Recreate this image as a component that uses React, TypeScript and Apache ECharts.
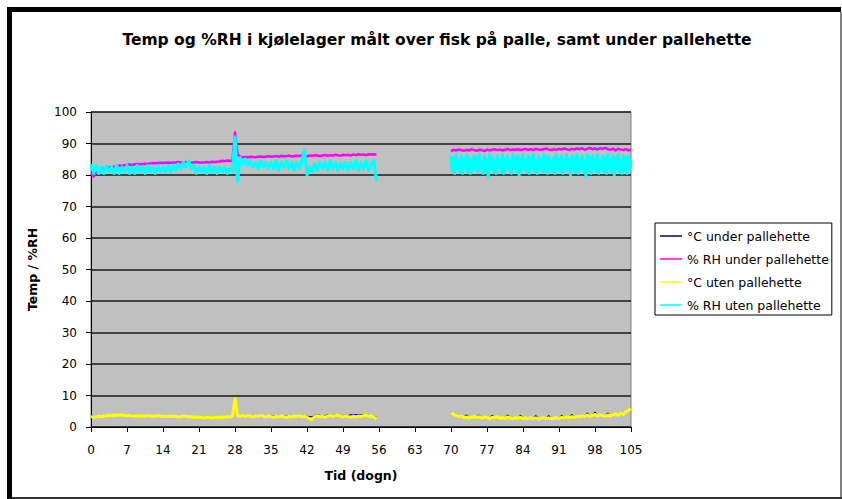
import React, { useEffect, useRef } from 'react';
import * as echarts from 'echarts';

const TITLE = 'Temp og %RH i kjølelager målt over fisk på palle, samt under pallehette';
const X_NAME = 'Tid (dogn)';
const Y_NAME = 'Temp / %RH';
const SERIES_NAMES = ['°C under pallehette', '% RH under pallehette', '°C uten pallehette', '% RH uten pallehette'];
const SERIES_COLORS = ['#000080', '#FF00FF', '#FFFF00', '#00FFFF'];
const SERIES_WIDTHS = [1.2, 2.5, 3, 3.2];

// sampling: part 1 starts at day 0, part 2 at day 70
const PART1_START = 0;
const PART2_START = 70;
const STEP = 0.5;
const STEP_FINE = 0.25;
const GAP_DAY = 62;

// °C under pallehette
const tempUnder1 = [
  3.4, 3.3, 3.3, 3.5, 3.5, 3.6, 3.7, 3.7, 3.7, 3.8,
  3.8, 3.8, 3.8, 3.9, 3.8, 3.8, 3.7, 3.7, 3.6, 3.7,
  3.6, 3.6, 3.6, 3.5, 3.6, 3.5, 3.6, 3.5, 3.5, 3.5,
  3.5, 3.5, 3.4, 3.4, 3.4, 3.4, 3.4, 3.4, 3.3, 3.3,
  3.2, 3.2, 3.2, 3.1, 3.1, 3.1, 3.1, 3.1, 3.1, 3.1,
  3.1, 3.2, 3.2, 3.3, 3.3, 3.4, 8.0, 3.7, 3.6, 3.6,
  3.6, 3.6, 3.5, 3.5, 3.6, 3.5, 3.6, 3.5, 3.5, 3.6,
  3.5, 3.5, 3.5, 3.5, 3.6, 3.5, 3.4, 3.5, 3.5, 3.6,
  3.5, 3.6, 3.5, 3.5, 3.4, 3.3, 3.2, 3.6, 3.9, 3.7,
  3.6, 3.5, 3.9, 3.8, 3.6, 3.8, 3.9, 3.7, 3.6, 3.7,
  3.6, 3.9, 3.8, 3.9, 3.9, 3.8, 3.9, 3.9, 3.7, 3.6,
  3.5, 3.0,
];
const tempUnder2 = [
  4.8, 4.1, 3.7, 3.5, 3.6, 3.2, 3.8, 3.0, 3.2, 3.5,
  3.1, 3.8, 2.9, 3.3, 3.1, 2.8, 3.7, 3.0, 3.4, 2.9,
  3.1, 2.8, 3.8, 3.0, 2.7, 3.1, 2.9, 3.7, 2.8, 3.0,
  2.7, 3.1, 2.8, 3.6, 2.6, 2.9, 3.1, 2.8, 3.6, 2.7,
  2.9, 3.1, 2.8, 3.7, 3.0, 3.3, 3.1, 3.9, 3.2, 3.5,
  3.3, 3.7, 3.4, 4.4, 3.5, 3.8, 4.7, 3.6, 4.0, 3.7,
  3.5, 4.4, 3.6, 4.0, 4.3, 3.8, 4.5, 4.1, 4.9, 5.3,
  6.1,
];

// % RH under pallehette
const rhUnder1 = [
  80.5, 79.5, 81, 81.5, 82, 82, 82.3, 82.5, 82.4, 82.7,
  82.8, 83, 82.9, 83.1, 83.2, 83.3, 83.2, 83.4, 83.5, 83.4,
  83.5, 83.6, 83.5, 83.7, 83.8, 83.7, 83.8, 83.9, 83.8, 83.9,
  84, 83.9, 84, 84, 84.1, 84, 84, 84.1, 84, 84,
  84, 84.1, 84, 84, 84, 84.1, 84, 84.2, 84.1, 84.2,
  84.3, 84.5, 84.4, 84.6, 84.5, 84.4, 93.5, 86.5, 85.8, 85.6,
  85.7, 85.6, 85.8, 85.7, 85.6, 85.8, 85.9, 85.7, 85.8, 86,
  85.8, 85.9, 86, 85.8, 86.1, 85.9, 86, 86.2, 85.9, 86,
  86.1, 86, 86.3, 86.1, 85.9, 86.2, 86.1, 86.3, 86.2, 86,
  86.2, 86.4, 86.1, 86.3, 86.2, 86.4, 86.3, 86.1, 86.4, 86.3,
  86.4, 86.2, 86.5, 86.3, 86.6, 86.4, 86.5, 86.3, 86.6, 86.5,
  86.6, 86.4,
];
const rhUnder2 = [
  87.6, 88.0, 87.8, 88.1, 87.9, 87.7, 88.0, 87.8, 88.2, 87.9,
  87.7, 88.0, 87.9, 87.6, 88.1, 87.8, 88.0, 88.2, 87.9, 88.1,
  87.8, 88.0, 88.3, 87.9, 88.1, 88.0, 88.2, 87.9, 88.1, 88.3,
  88.0, 88.2, 87.9, 88.3, 88.1, 88.0, 88.2, 88.4, 88.1, 87.9,
  88.2, 88.0, 88.3, 88.1, 88.4, 88.2, 87.9, 88.3, 88.1, 88.4,
  88.2, 88.5, 88.0, 88.3, 88.6, 88.2, 88.4, 88.1, 88.5, 88.3,
  88.6, 88.2, 88.0, 88.4, 87.8, 88.3, 88.1, 87.9, 88.2, 87.8,
  88.0,
];

// °C uten pallehette
const tempOut1 = [
  3.3, 3.1, 3.2, 3.4, 3.3, 3.5, 3.6, 3.7, 3.6, 3.8,
  3.7, 3.9, 3.8, 3.7, 3.6, 3.7, 3.5, 3.6, 3.5, 3.6,
  3.5, 3.4, 3.6, 3.5, 3.4, 3.5, 3.6, 3.4, 3.5, 3.3,
  3.4, 3.5, 3.3, 3.4, 3.2, 3.3, 3.5, 3.4, 3.2, 3.3,
  3.1, 3.2, 3.0, 3.1, 2.9, 3.0, 3.1, 2.9, 3.0, 3.1,
  3.0, 3.2, 3.1, 3.3, 3.2, 3.4, 9.0, 3.6, 3.4, 3.7,
  3.3, 3.6, 3.4, 3.2, 3.5, 3.3, 3.6, 3.4, 3.2, 3.5,
  3.3, 3.1, 3.4, 3.2, 3.5, 3.3, 3.0, 3.4, 3.2, 3.5,
  3.3, 3.6, 3.2, 3.4, 3.1, 2.6, 2.4, 3.3, 3.6, 3.2,
  3.4, 3.1, 3.5, 3.7, 3.3, 3.6, 3.8, 3.4, 3.2, 3.5,
  3.3, 3.1, 3.4, 3.2, 3.5, 3.3, 3.6, 3.8, 3.4, 3.5,
  3.2, 2.5,
];
const tempOut2 = [
  4.6, 4.0, 3.6, 3.3, 3.5, 3.0, 3.2, 2.9, 3.1, 3.4,
  3.0, 3.3, 2.8, 3.2, 3.0, 2.7, 3.1, 2.9, 3.3, 2.8,
  3.0, 2.7, 3.2, 2.9, 2.6, 3.0, 2.8, 3.1, 2.7, 2.9,
  2.6, 3.0, 2.7, 2.9, 2.5, 2.8, 3.0, 2.7, 2.9, 2.6,
  2.8, 3.0, 2.7, 3.1, 2.9, 3.2, 3.0, 3.3, 3.1, 3.4,
  3.2, 3.6, 3.3, 3.8, 3.4, 3.7, 4.0, 3.5, 3.9, 3.6,
  3.4, 3.8, 3.5, 3.9, 4.2, 3.7, 4.4, 4.0, 4.8, 5.2,
  6.0,
];

// % RH uten pallehette
const rhOut1 = [
  83.5, 80.5, 83, 80.5, 82.5, 80.5, 83, 81, 82.5, 80.5,
  83, 80.5, 82.5, 81, 83, 80.5, 82.5, 80.5, 83, 81,
  82.5, 80.5, 83, 81, 82.5, 80.5, 83, 81, 82.5, 81,
  83, 81, 83, 81.5, 83.5, 82, 84, 82.5, 84.5, 82,
  83, 80.5, 82.5, 81, 82.5, 80.5, 83, 81, 82.5, 80.5,
  82.5, 81, 82.5, 80.5, 82, 81, 92, 78, 85.5, 83.5,
  85, 83, 84.5, 82.5, 84, 82, 84.5, 82.5, 84, 82,
  84, 82, 84.5, 81.5, 84, 82.5, 84.5, 82, 84, 81.5,
  84, 82, 84.5, 88, 80, 82.5, 81, 83.5, 81.5, 84,
  82, 84, 81.5, 84.5, 82, 84, 81.5, 83.5, 82, 84,
  81.5, 84, 82, 84.5, 81.5, 84, 82, 84.5, 81.5, 83.5,
  84.5, 78,
];
// quarter-day readings from day 70
const rhOut2 = [
  86, 81.5, 85.5, 80.5, 86.5, 82, 84.5, 81, 86, 80.5, 85, 82.5, 86.5, 81, 85.5, 80.5, 84.5, 81.5, 86, 82,
  85.5, 81, 86.5, 82, 84, 80.5, 86, 81.5, 85, 79.5, 86.5, 82, 85.5, 81, 84.5, 80.5, 86, 82.5, 85, 81,
  86.5, 80.5, 85, 82, 86, 81.5, 84.5, 80.5, 86.5, 82, 85.5, 81, 86, 80, 85, 81.5, 86.5, 82, 84.5, 81,
  86, 80.5, 85.5, 82, 86.5, 81, 84.5, 80.5, 86, 82.5, 85, 81, 86.5, 81.5, 85.5, 80.5, 86, 82, 84.5, 81,
  85.5, 80.5, 86.5, 82, 85, 81, 86, 80.5, 84.5, 82, 86.5, 81.5, 85, 80, 86, 82, 85.5, 81, 86.5, 80.5,
  85, 82, 86, 81, 84.5, 79.5, 86.5, 81.5, 85.5, 80.5, 86, 82, 85, 81, 86.5, 80.5, 84.5, 82, 86, 81,
  85.5, 80.5, 86.5, 82, 85, 81, 86, 80, 85.5, 82, 86.5, 81, 84.5, 80.5, 86, 81.5, 85.5, 80.5, 86, 82,
  84.5,
];

const PARTS: [number[], number, number[], number][] = [
  [tempUnder1, STEP, tempUnder2, STEP],
  [rhUnder1, STEP, rhUnder2, STEP],
  [tempOut1, STEP, tempOut2, STEP],
  [rhOut1, STEP, rhOut2, STEP_FINE],
];

function buildSeriesData(p1: number[], s1: number, p2: number[], s2: number) {
  const a = p1.map((v, i) => [PART1_START + i * s1, v]);
  const b = p2.map((v, i) => [PART2_START + i * s2, v]);
  return [...a, [GAP_DAY, '-'], ...b];
}

const TXT = 'DejaVu Sans';

export default function App() {
  const ref = useRef<HTMLDivElement>(null);
  useEffect(() => {
    if (!ref.current) return;
    const chart = echarts.init(ref.current, null, { renderer: 'svg' });
    const option: any = {
      animation: false,
      backgroundColor: '#ffffff',
      grid: {
        left: 91,
        top: 112,
        width: 540,
        height: 315,
        show: true,
        backgroundColor: '#C0C0C0',
        borderColor: '#808080',
        borderWidth: 1,
      },
      xAxis: {
        type: 'value',
        min: 0,
        max: 105,
        interval: 7,
        name: X_NAME,
        nameLocation: 'middle',
        nameGap: 42,
        nameTextStyle: { fontFamily: TXT, fontWeight: 'bold', fontSize: 12.5, color: '#000' },
        axisLine: { show: true, lineStyle: { color: '#000', width: 1 } },
        axisTick: { show: true, length: 5, lineStyle: { color: '#000' } },
        axisLabel: { fontFamily: TXT, fontSize: 12, color: '#000', margin: 17 },
        splitLine: { show: false },
      },
      yAxis: {
        type: 'value',
        min: 0,
        max: 100,
        interval: 10,
        name: Y_NAME,
        nameLocation: 'middle',
        nameGap: 52,
        nameRotate: 90,
        nameTextStyle: { fontFamily: TXT, fontWeight: 'bold', fontSize: 12.5, color: '#000' },
        axisLine: { show: true, lineStyle: { color: '#000', width: 1 } },
        axisTick: { show: true, length: 5, lineStyle: { color: '#000' } },
        axisLabel: { fontFamily: TXT, fontSize: 12, color: '#000', margin: 14 },
        splitLine: { show: true, lineStyle: { color: '#1a1a1a', width: 1.5 } },
      },
      legend: {
        orient: 'vertical',
        left: 655,
        top: 223,
        padding: [6, 3, 3, 5],
        itemGap: 9,
        itemWidth: 22,
        itemHeight: 1.5,
        icon: 'rect',
        backgroundColor: '#ffffff',
        borderColor: '#000',
        borderWidth: 1,
        borderRadius: 0,
        textStyle: { fontFamily: TXT, fontSize: 12.5, lineHeight: 14, color: '#000' },
        data: SERIES_NAMES,
      },
      series: SERIES_NAMES.map((name, i) => ({
        name,
        type: 'line',
        symbol: 'none',
        showSymbol: false,
        connectNulls: false,
        lineStyle: { color: SERIES_COLORS[i], width: SERIES_WIDTHS[i], join: 'round' },
        itemStyle: { color: SERIES_COLORS[i] },
        data: buildSeriesData(PARTS[i][0], PARTS[i][1], PARTS[i][2], PARTS[i][3]),
      })),
      graphic: [
        { type: 'rect', shape: { x: 7, y: 7, width: 834, height: 5 }, style: { fill: '#000' }, z: 100 },
        { type: 'rect', shape: { x: 7, y: 7, width: 5, height: 492 }, style: { fill: '#000' }, z: 100 },
        { type: 'rect', shape: { x: 840, y: 12, width: 2, height: 487 }, style: { fill: '#808080' }, z: 100 },
        { type: 'rect', shape: { x: 12, y: 497, width: 830, height: 2 }, style: { fill: '#333' }, z: 100 },
        {
          type: 'text',
          x: 437,
          y: 40,
          z: 100,
          style: {
            text: TITLE,
            fontFamily: 'DejaVu Sans',
            fontWeight: 'bold',
            fontSize: 15.5,
            fill: '#000',
            align: 'center',
            verticalAlign: 'middle',
          },
        },
      ],
    };
    chart.setOption(option);
    return () => chart.dispose();
  }, []);
  return (
    <div
      ref={ref}
      style={{ position: 'fixed', left: 0, top: 0, width: 842, height: 499, background: '#fff' }}
    />
  );
}
